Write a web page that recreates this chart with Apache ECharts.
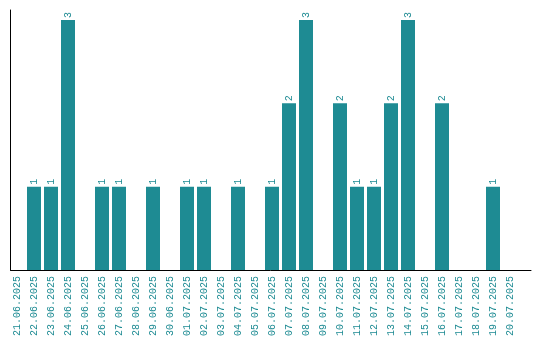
<!DOCTYPE html>
<html>
<head>
<meta charset="utf-8">
<script src="https://cdn.jsdelivr.net/npm/echarts@6/dist/echarts.min.js"></script>
<style>html,body{margin:0;padding:0;background:#fff}#c{width:540px;height:340px}</style>
</head>
<body>
<div id="c"></div>
<script>
const categories = ["21.06.2025","22.06.2025","23.06.2025","24.06.2025","25.06.2025","26.06.2025","27.06.2025","28.06.2025","29.06.2025","30.06.2025","01.07.2025","02.07.2025","03.07.2025","04.07.2025","05.07.2025","06.07.2025","07.07.2025","08.07.2025","09.07.2025","10.07.2025","11.07.2025","12.07.2025","13.07.2025","14.07.2025","15.07.2025","16.07.2025","17.07.2025","18.07.2025","19.07.2025","20.07.2025"];
const counts = [0,1,1,3,0,1,1,0,1,0,1,1,0,1,0,1,2,3,0,2,1,1,2,3,0,2,0,0,1,0];
const color = '#1e8b93';
const font = 'Liberation Mono';
const chart = echarts.init(document.getElementById('c'));
chart.setOption({
  animation: false,
  grid: [
    {left: 8.5, width: 510, top: 20, height: 250},
    {left: 10.5, right: 9, top: 10, bottom: 70}
  ],
  xAxis: [
    {type: 'category', gridIndex: 0, data: categories,
     axisLine: {show: false}, axisTick: {show: false}, splitLine: {show: false},
     axisLabel: {rotate: 90, margin: 6, color: color, fontFamily: font, fontSize: 10, interval: 0}},
    {type: 'value', gridIndex: 1, min: 0, max: 1,
     axisLine: {show: true, lineStyle: {color: '#000', width: 1}}, axisTick: {show: false},
     axisLabel: {show: false}, splitLine: {show: false}}
  ],
  yAxis: [
    {type: 'value', gridIndex: 0, min: 0, max: 3, show: false, splitLine: {show: false}},
    {type: 'value', gridIndex: 1, min: 0, max: 1,
     axisLine: {show: true, lineStyle: {color: '#000', width: 1}}, axisTick: {show: false},
     axisLabel: {show: false}, splitLine: {show: false}}
  ],
  series: [{
    type: 'bar', xAxisIndex: 0, yAxisIndex: 0, data: counts, barWidth: 14,
    itemStyle: {color: color},
    label: {show: true, position: 'top', rotate: 90, align: 'left', verticalAlign: 'middle',
      distance: 2, color: color, fontFamily: font, fontSize: 10,
      formatter: p => p.value ? String(p.value) : ''}
  }]
});
</script>
</body>
</html>
